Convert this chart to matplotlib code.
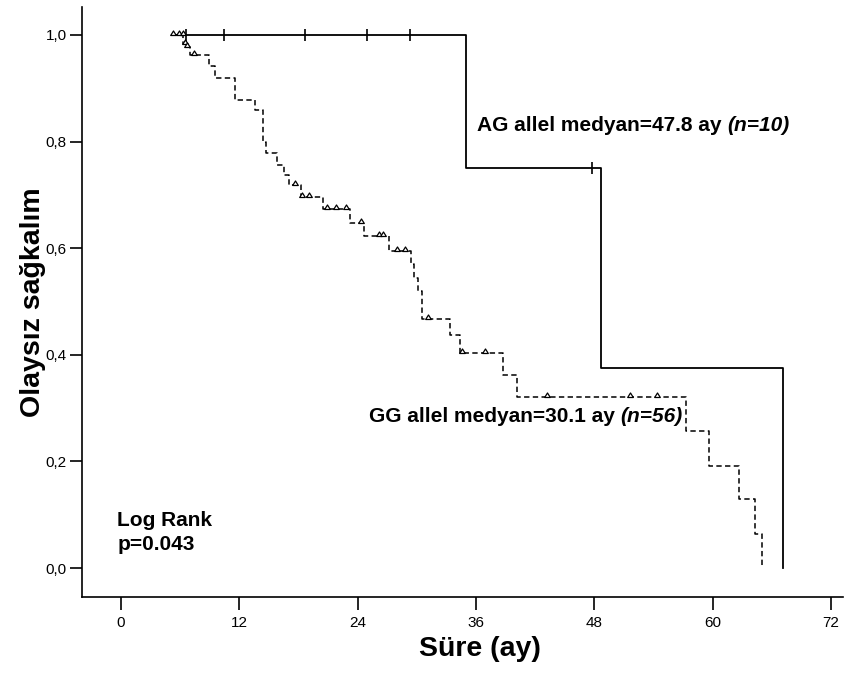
import numpy as np
import matplotlib
matplotlib.use("Agg")
import matplotlib.pyplot as plt
from matplotlib.path import Path

plt.rcParams['font.family'] = ['Liberation Sans', 'DejaVu Sans']

# AG allel (n=10) - olay zamanlari ve sagkalim duzeyleri
ag_time = [5.2, 35.0, 48.65, 67.1]
ag_surv = [1.0, 0.75, 0.375, 0.0]
ag_cens_t = [6.6, 10.4, 18.7, 24.9, 29.3, 47.8]
ag_cens_s = [1.0, 1.0, 1.0, 1.0, 1.0, 0.75]

# GG allel (n=56)
gg_time = [5.2, 6.3, 6.6, 7.0, 8.9, 9.5, 11.6, 13.6, 14.4, 14.7, 15.8, 16.5,
           17.0, 18.2, 20.5, 23.2, 24.6, 27.2, 29.4, 29.7, 30.1, 30.5, 33.4,
           34.4, 38.7, 40.1, 57.3, 59.6, 62.7, 64.3, 65.0]
gg_surv = [1.0, 0.984, 0.978, 0.962, 0.941, 0.919, 0.878, 0.859, 0.80, 0.778,
           0.756, 0.737, 0.719, 0.696, 0.673, 0.648, 0.622, 0.594, 0.57, 0.545,
           0.52, 0.468, 0.437, 0.403, 0.362, 0.321, 0.257, 0.192, 0.129, 0.064,
           0.0]
gg_cens_t = [5.3, 5.9, 6.25, 6.5, 6.65, 7.4, 17.6, 18.3, 19.1, 20.9, 21.8, 22.8,
             24.3, 26.2, 26.6, 28.0, 28.8, 31.1, 34.6, 36.9, 43.2, 51.6, 54.3]
gg_cens_s = [1.0, 1.0, 1.0, 0.984, 0.978, 0.962, 0.719, 0.696, 0.696, 0.673,
             0.673, 0.673, 0.648, 0.622, 0.622, 0.594, 0.594, 0.468, 0.403,
             0.403, 0.321, 0.321, 0.321]

x_ticks = [0, 12, 24, 36, 48, 60, 72]
y_ticks = [0.0, 0.2, 0.4, 0.6, 0.8, 1.0]
y_labels = ['0,0', '0,2', '0,4', '0,6', '0,8', '1,0']

# ucgen isaret: tabani veri noktasinda
tri = Path([(-1, 0), (0, 1.6), (1, 0), (-1, 0)],
           [Path.MOVETO, Path.LINETO, Path.LINETO, Path.CLOSEPOLY])

fig = plt.figure(figsize=(8.44, 6.75), dpi=100)
ax = fig.add_axes([82 / 844, 1 - 597 / 675, 761 / 844, 590 / 675])

ax.step(ag_time, ag_surv, where='post', color='black', lw=1.3)
ax.plot(ag_cens_t, ag_cens_s, ls='none', marker='|', ms=8, mew=1.2, color='black')

ax.step(gg_time, gg_surv, where='post', color='black', lw=1.1, dashes=(3.5, 2.2))
ax.plot(gg_cens_t, gg_cens_s, ls='none', marker=tri, ms=6.5, mew=0.9,
        mfc='white', mec='black')

ax.set_xlim(-3.96, 73.2)
ax.set_ylim(-0.0544, 1.0525)
ax.set_xticks(x_ticks)
ax.set_yticks(y_ticks)
ax.set_yticklabels(y_labels)
ax.tick_params(axis='both', direction='out', length=9, width=1.2,
               labelsize=11, colors='black')
ax.tick_params(axis='x', pad=5)
ax.tick_params(axis='y', pad=2)
for s in ['top', 'right']:
    ax.spines[s].set_visible(False)
for s in ['left', 'bottom']:
    ax.spines[s].set_linewidth(1.2)

ax.set_xlabel('Süre (ay)', fontsize=20.5, fontweight='bold')
ax.set_ylabel('Olaysız sağkalım', fontsize=20.5, fontweight='bold')
ax.xaxis.set_label_coords(0.523, -0.066)
ax.yaxis.set_label_coords(-0.047, 0.5)

t1 = ax.text(36.05, 0.83, 'AG allel medyan=47.8 ay ', fontsize=15,
             fontweight='bold', va='center', ha='left')
ax.annotate('(n=10)', xy=(1, 0), xycoords=t1, va='bottom', ha='left',
            fontsize=15, fontweight='bold', fontstyle='italic')

t2 = ax.text(25.1, 0.285, 'GG allel medyan=30.1 ay ', fontsize=15,
             fontweight='bold', va='center', ha='left')
ax.annotate('(n=56)', xy=(1, 0), xycoords=t2, va='bottom', ha='left',
            fontsize=15, fontweight='bold', fontstyle='italic')

ax.text(-0.4, 0.09, 'Log Rank', fontsize=15, fontweight='bold', va='center')
ax.text(-0.4, 0.045, 'p=0.043', fontsize=15, fontweight='bold', va='center')

fig.savefig('out.png', dpi=100)
